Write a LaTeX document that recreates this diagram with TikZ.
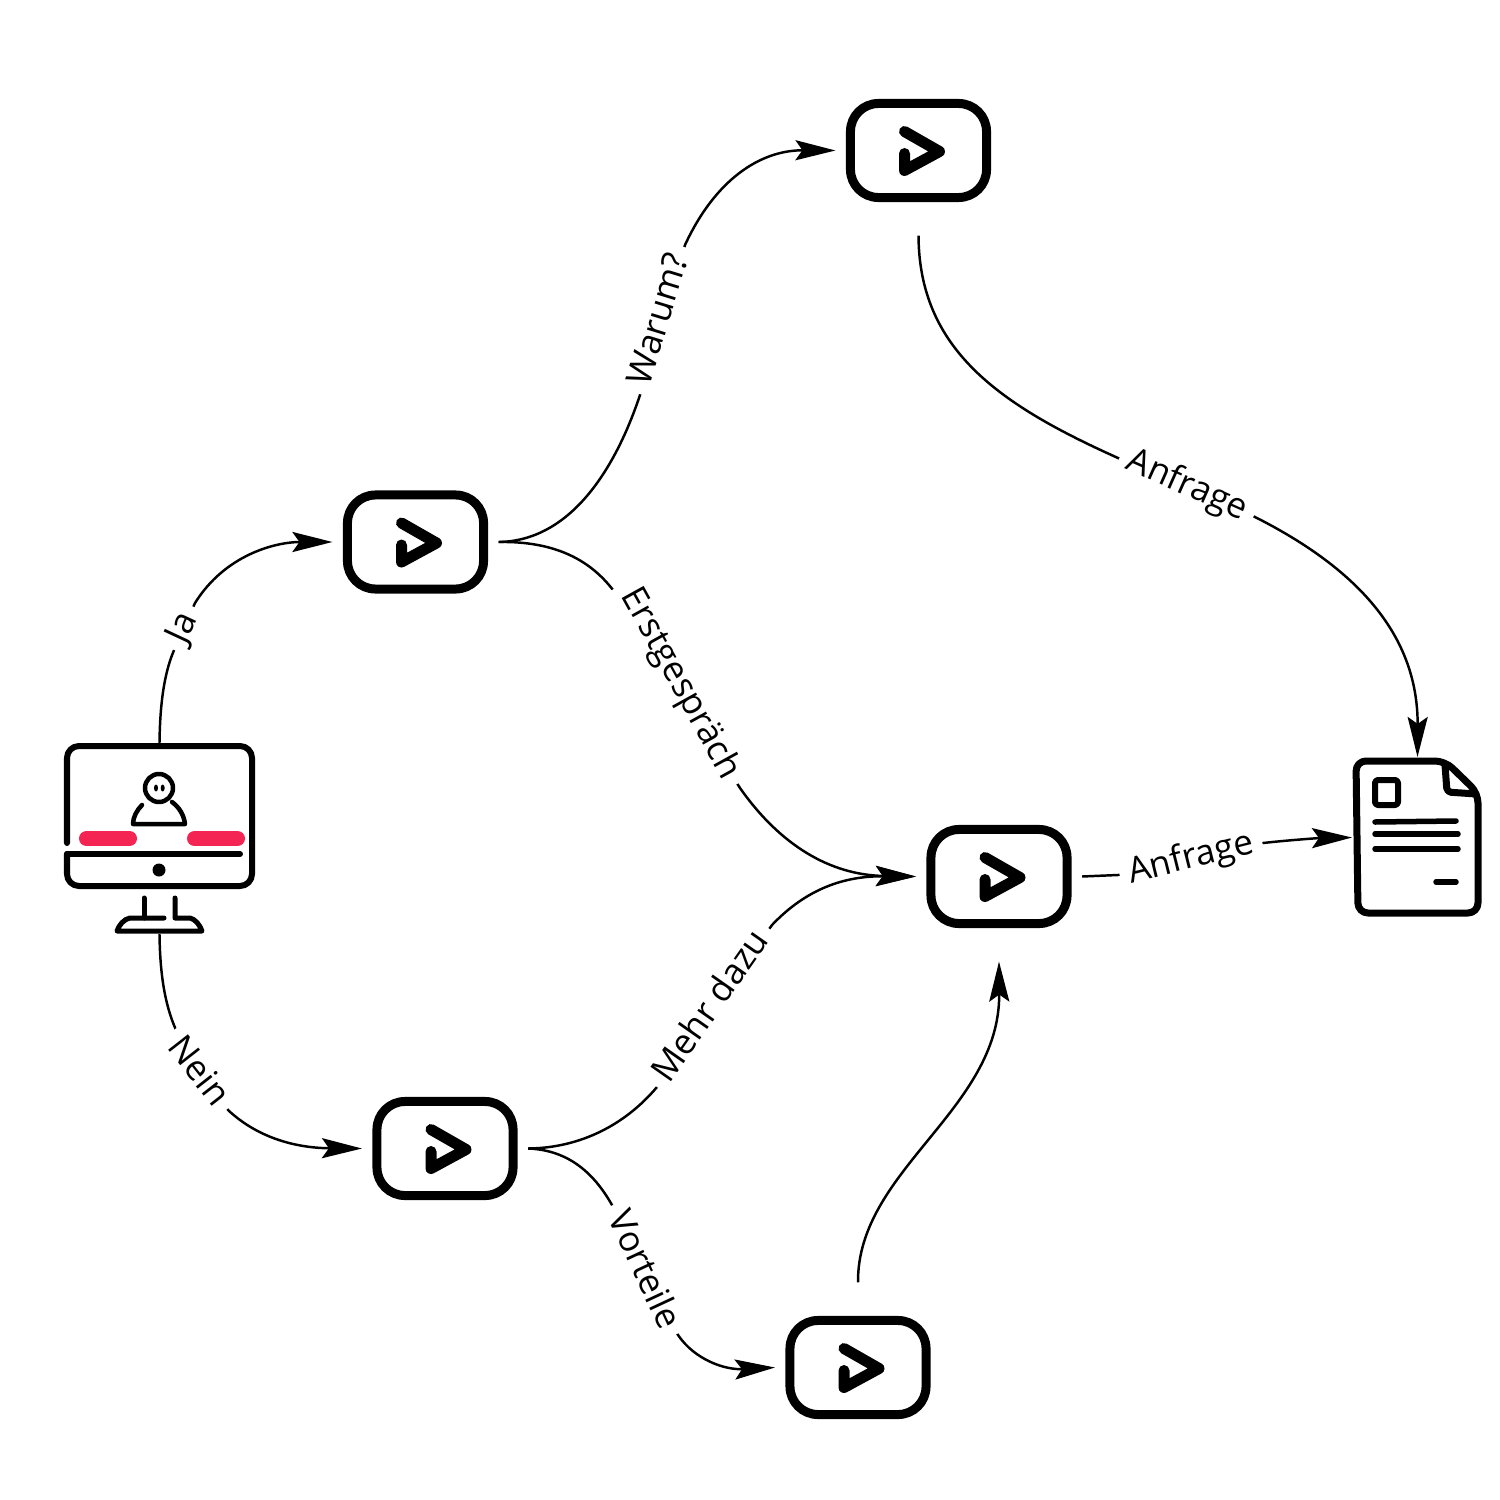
\documentclass[tikz,border=0pt]{standalone}
\usepackage{fontspec}
\setmainfont{Open Sans}
\usetikzlibrary{arrows.meta}

\definecolor{barred}{HTML}{F42553}

\tikzset{
	video/.style={draw, line width=.09cm, rounded corners=.28cm, minimum width=1.36cm, minimum height=.94cm, inner sep=0pt, outer xsep=.15cm, outer ysep=.38cm},
	playline/.style={line width=.11cm, line cap=round, line join=round},
	iconbox/.style={inner sep=0pt, outer sep=0pt},
	iconline/.style={line width=.055cm, line cap=round, line join=round},
	link/.style={line width=.7pt, -{Stealth[length=.4cm, width=.2cm, inset=.07cm]}},
	tag/.style={fill=white, inner sep=2.6pt, font=\fontsize{10}{12}\selectfont}
}

\begin{document}
\begin{tikzpicture}[x=.01cm, y=-.01cm]
	\useasboundingbox (0,0) rectangle (1500,1500);

	\node[iconbox, minimum width=1.91cm, minimum height=1.91cm] (screen) at (159.5,838.5) {};
	\node[iconbox, minimum width=1.31cm, minimum height=1.61cm] (doc) at (1417.5,837.5) {};

	\node[video] (vja) at (415.5,542) {};
	\node[video] (vwarum) at (918.5,150.5) {};
	\node[video] (vinfo) at (999,876.5) {};
	\node[video] (vnein) at (445,1148.5) {};
	\node[video] (vvorteil) at (858,1367.5) {};

	% play symbols
	\foreach \vid in {vja,vwarum,vinfo,vnein,vvorteil} {
		\draw[playline, shift={(\vid.center)}] (-14,-19) -- (21,1) -- (-14,20) -- (-14,3);
	}

	% monitor
	\draw[iconline, line width=.06cm, rounded corners=.12cm] (67,843) -- (67,746) -- (252,746) -- (252,886) -- (67,886) -- (67,854);
	\draw[iconline, line width=.06cm] (67,854) -- (240,854);
	\fill (159,870) circle (6.5);
	\draw[barred, line width=.15cm, line cap=round] (86.5,838.5) -- (129.5,838.5);
	\draw[barred, line width=.15cm, line cap=round] (194.5,838.5) -- (237.5,838.5);
	\draw[iconline, line width=.045cm] (159,788) circle (14);
	\fill (156,788) ellipse (2 and 3.5);
	\fill (162.7,788) ellipse (2 and 3.5);
	\draw[iconline, line width=.045cm] (142,805) .. controls (137,810) and (133,817) .. (133,824) -- (185,824) .. controls (184,815) and (179,807) .. (172,802);
	\draw[iconline, line width=.05cm] (144,898) -- (144,918);
	\draw[iconline, line width=.05cm] (164,918) -- (130,918) .. controls (124,919) and (119,925) .. (117,931) -- (202,931) .. controls (200,925) and (195,919) .. (190,918) -- (175,918) -- (175,898);

	% document
	\draw[iconline, line width=.07cm, rounded corners=.1cm] (1445,761) -- (1356,761) -- (1358,913) -- (1478,913) -- (1478,793) -- cycle;
	\draw[iconline, line width=.07cm, rounded corners=.04cm] (1445,765) -- (1447,792) -- (1476,794);
	\draw[iconline, line width=.06cm, rounded corners=.03cm] (1375,780) rectangle (1398,805);
	\draw[iconline] (1375,822) -- (1456,821);
	\draw[iconline] (1375,834) -- (1458,834);
	\draw[iconline] (1375,849) -- (1458,849);
	\draw[iconline] (1436,882) -- (1456,882);

	% connectors
	\draw[link] (screen.north) .. controls (160,700) and (165,670) .. (175,648) -- (195,603) .. controls (225,555) and (275,542) .. (vja.west);
	\draw[link] (screen.south) .. controls (160,975) and (165,1005) .. (176,1030) -- (228,1110) .. controls (260,1140) and (300,1148) .. (vnein.west);
	\draw[link] (vja.east) .. controls (570,541) and (615,470) .. (640,395) -- (685,245) .. controls (715,180) and (760,150) .. (vwarum.west);
	\draw[link] (vja.east) .. controls (555,541) and (590,560) .. (613,590) -- (740,788) .. controls (780,845) and (830,875) .. (vinfo.west);
	\draw[link] (vnein.east) .. controls (580,1148) and (625,1125) .. (657,1087) -- (772,925) .. controls (810,885) and (850,876) .. (vinfo.west);
	\draw[link] (vnein.east) .. controls (570,1150) and (595,1175) .. (612,1205) -- (678,1335) .. controls (695,1360) and (725,1370) .. (vvorteil.west);
	\draw[link] (vvorteil.north) .. controls (857,1170) and (1000,1110) .. (vinfo.south);
	\draw[link] (vwarum.south) .. controls (919,350) and (1000,405) .. (1118,458) -- (1255,517) .. controls (1350,565) and (1418,630) .. (doc.north);
	\draw[link] (vinfo.east) -- (1118,875) -- (1263,843) .. controls (1290,840) and (1320,838) .. (doc.west);

	% labels on the connectors
	\node[tag, rotate=65] (lblja) at (183,628) {Ja};
	\node[tag, rotate=-52] (lblnein) at (200,1070) {Nein};
	\node[tag, rotate=73] (lblwarum) at (657,319) {Warum?};
	\node[tag, rotate=-61] (lblerst) at (680,684) {Erstgespräch};
	\node[tag, rotate=55] (lblmehr) at (709,1005) {Mehr dazu};
	\node[tag, rotate=-65] (lblvorteile) at (646,1269) {Vorteile};
	\node[tag, rotate=-24] (lblanfragea) at (1187,486) {Anfrage};
	\node[tag, rotate=14] (lblanfrageb) at (1191,859) {Anfrage};
\end{tikzpicture}
\end{document}
